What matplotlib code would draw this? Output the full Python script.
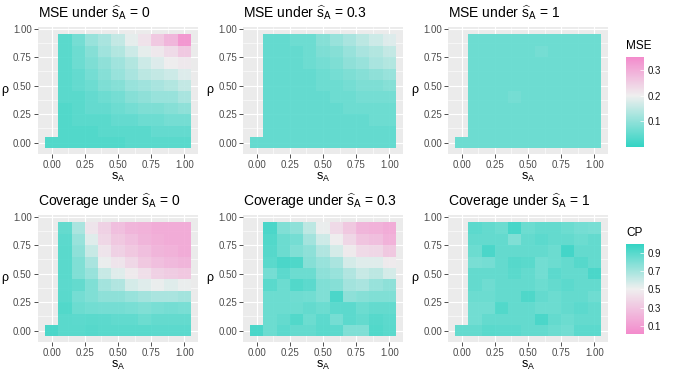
import numpy as np
import matplotlib
matplotlib.use("Agg")
import matplotlib.pyplot as plt
from matplotlib.colors import LinearSegmentedColormap, Normalize

plt.rcParams["font.family"] = ["Liberation Sans", "DejaVu Sans"]
plt.rcParams["mathtext.fontset"] = "custom"
plt.rcParams["mathtext.rm"] = "Liberation Sans"
plt.rcParams["mathtext.it"] = "Liberation Sans:italic"
plt.rcParams["mathtext.default"] = "regular"

# ----------------------------------------------------------------------
# Data
# ----------------------------------------------------------------------
s_vals = [0.1, 0.2, 0.3, 0.4, 0.5, 0.6, 0.7, 0.8, 0.9, 1.0]
rho_vals = [0.9, 0.8, 0.7, 0.6, 0.5, 0.4, 0.3, 0.2, 0.1, 0.0]  # rows, top->bottom
s_hat = ["0", "0.3", "1"]

mse_s0 = [
    [0.03, 0.06, 0.10, 0.12, 0.15, 0.19, 0.22, 0.26, 0.29, 0.34],
    [0.03, 0.05, 0.08, 0.11, 0.13, 0.16, 0.19, 0.21, 0.23, 0.26],
    [0.03, 0.05, 0.07, 0.09, 0.11, 0.13, 0.16, 0.18, 0.20, 0.21],
    [0.03, 0.04, 0.06, 0.08, 0.10, 0.12, 0.14, 0.15, 0.16, 0.18],
    [0.03, 0.04, 0.05, 0.07, 0.08, 0.10, 0.11, 0.12, 0.13, 0.15],
    [0.03, 0.03, 0.04, 0.05, 0.06, 0.08, 0.09, 0.10, 0.10, 0.12],
    [0.02, 0.03, 0.04, 0.04, 0.05, 0.06, 0.07, 0.07, 0.08, 0.09],
    [0.02, 0.03, 0.03, 0.03, 0.04, 0.04, 0.05, 0.05, 0.06, 0.06],
    [0.02, 0.02, 0.02, 0.03, 0.03, 0.03, 0.03, 0.04, 0.04, 0.04],
    [0.02, 0.02, 0.02, 0.02, 0.02, 0.03, 0.03, 0.03, 0.03, 0.03],
]
mse_s03 = [
    [0.04, 0.04, 0.05, 0.05, 0.08, 0.10, 0.12, 0.14, 0.16, 0.18],
    [0.04, 0.04, 0.04, 0.05, 0.07, 0.08, 0.10, 0.12, 0.13, 0.15],
    [0.04, 0.04, 0.04, 0.05, 0.06, 0.07, 0.09, 0.10, 0.12, 0.13],
    [0.04, 0.04, 0.04, 0.04, 0.05, 0.06, 0.07, 0.08, 0.09, 0.10],
    [0.04, 0.04, 0.04, 0.04, 0.05, 0.05, 0.06, 0.07, 0.07, 0.08],
    [0.04, 0.04, 0.04, 0.04, 0.04, 0.05, 0.05, 0.06, 0.06, 0.06],
    [0.04, 0.04, 0.04, 0.04, 0.04, 0.04, 0.05, 0.05, 0.05, 0.05],
    [0.04, 0.04, 0.04, 0.04, 0.04, 0.04, 0.04, 0.04, 0.05, 0.05],
    [0.04, 0.04, 0.04, 0.04, 0.04, 0.04, 0.04, 0.04, 0.04, 0.04],
    [0.04, 0.04, 0.04, 0.04, 0.04, 0.04, 0.04, 0.04, 0.04, 0.04],
]
mse_s1 = [
    [0.05, 0.05, 0.05, 0.05, 0.05, 0.05, 0.05, 0.05, 0.05, 0.05],
    [0.05, 0.05, 0.05, 0.05, 0.05, 0.06, 0.05, 0.05, 0.05, 0.05],
    [0.05, 0.05, 0.05, 0.05, 0.05, 0.05, 0.05, 0.05, 0.05, 0.05],
    [0.05, 0.05, 0.05, 0.05, 0.05, 0.05, 0.05, 0.05, 0.05, 0.05],
    [0.05, 0.05, 0.05, 0.05, 0.05, 0.05, 0.05, 0.05, 0.05, 0.05],
    [0.05, 0.05, 0.05, 0.06, 0.05, 0.05, 0.05, 0.05, 0.05, 0.05],
    [0.05, 0.05, 0.05, 0.05, 0.05, 0.05, 0.05, 0.05, 0.05, 0.05],
    [0.05, 0.05, 0.05, 0.05, 0.05, 0.05, 0.05, 0.05, 0.05, 0.05],
    [0.05, 0.05, 0.05, 0.05, 0.05, 0.05, 0.05, 0.05, 0.05, 0.05],
    [0.05, 0.05, 0.05, 0.05, 0.05, 0.05, 0.05, 0.05, 0.05, 0.05],
]
mse_origin = [0.02, 0.04, 0.05]

cp_s0 = [
    [0.90, 0.70, 0.45, 0.35, 0.25, 0.20, 0.18, 0.15, 0.15, 0.15],
    [0.92, 0.75, 0.55, 0.38, 0.30, 0.25, 0.20, 0.17, 0.15, 0.15],
    [0.93, 0.78, 0.62, 0.45, 0.35, 0.30, 0.25, 0.20, 0.18, 0.15],
    [0.93, 0.82, 0.70, 0.52, 0.45, 0.38, 0.30, 0.25, 0.22, 0.20],
    [0.93, 0.82, 0.75, 0.62, 0.55, 0.48, 0.42, 0.35, 0.32, 0.30],
    [0.92, 0.90, 0.82, 0.72, 0.68, 0.58, 0.55, 0.52, 0.55, 0.52],
    [0.93, 0.85, 0.82, 0.78, 0.78, 0.75, 0.72, 0.70, 0.70, 0.72],
    [0.95, 0.88, 0.86, 0.85, 0.85, 0.84, 0.82, 0.84, 0.85, 0.84],
    [0.93, 0.92, 0.93, 0.92, 0.91, 0.91, 0.88, 0.90, 0.90, 0.90],
    [0.93, 0.93, 0.94, 0.93, 0.93, 0.93, 0.93, 0.92, 0.92, 0.92],
]
cp_s03 = [
    [0.97, 0.82, 0.78, 0.65, 0.52, 0.40, 0.30, 0.20, 0.18, 0.15],
    [0.95, 0.88, 0.85, 0.72, 0.60, 0.50, 0.38, 0.28, 0.25, 0.18],
    [0.94, 0.88, 0.82, 0.78, 0.68, 0.58, 0.48, 0.40, 0.38, 0.30],
    [0.93, 0.97, 0.96, 0.80, 0.75, 0.70, 0.58, 0.55, 0.55, 0.48],
    [0.85, 0.92, 0.88, 0.88, 0.78, 0.75, 0.68, 0.62, 0.65, 0.58],
    [0.93, 0.88, 0.95, 0.92, 0.82, 0.80, 0.72, 0.70, 0.75, 0.78],
    [0.88, 0.88, 0.87, 0.86, 0.82, 0.97, 0.78, 0.80, 0.82, 0.82],
    [0.88, 0.88, 0.88, 0.90, 0.88, 0.92, 0.92, 0.88, 0.90, 0.90],
    [0.88, 0.90, 0.95, 0.88, 0.92, 0.85, 0.92, 0.90, 0.94, 0.92],
    [0.88, 0.92, 0.90, 0.90, 0.93, 0.92, 0.82, 0.82, 0.95, 0.93],
]
cp_s1 = [
    [0.92, 0.90, 0.88, 0.98, 0.88, 0.90, 0.90, 0.88, 0.85, 0.84],
    [0.90, 0.90, 0.90, 0.82, 0.90, 0.92, 0.90, 0.90, 0.88, 0.90],
    [0.88, 0.97, 0.90, 0.90, 0.90, 0.90, 0.88, 0.99, 0.90, 0.90],
    [0.84, 0.85, 0.90, 0.94, 0.93, 0.86, 0.88, 0.90, 0.94, 0.90],
    [0.90, 0.90, 0.90, 0.93, 0.90, 0.86, 0.92, 0.90, 0.90, 0.97],
    [0.90, 0.87, 0.90, 0.90, 0.90, 0.88, 0.90, 0.92, 0.90, 0.90],
    [0.88, 0.88, 0.90, 0.90, 0.96, 0.90, 0.88, 0.90, 0.90, 0.87],
    [0.86, 0.86, 0.95, 0.90, 0.90, 0.88, 0.88, 0.90, 0.92, 0.90],
    [0.86, 0.90, 0.90, 0.90, 0.90, 0.97, 0.90, 0.88, 0.90, 0.90],
    [0.90, 0.93, 0.92, 0.92, 0.90, 0.90, 0.88, 0.86, 0.92, 0.92],
]
cp_origin = [0.97, 0.97, 0.90]

mse_ticks = [0.1, 0.2, 0.3]
cp_ticks = [0.1, 0.3, 0.5, 0.7, 0.9]

# ----------------------------------------------------------------------
# Styling
# ----------------------------------------------------------------------
TEAL = "#33D4C4"
MID = "#EFEFEF"
PINK = "#F38BCC"
mse_cmap = LinearSegmentedColormap.from_list(
    "mse", [(0.0, TEAL), (0.57, MID), (1.0, PINK)])
cp_cmap = LinearSegmentedColormap.from_list(
    "cp", [(0.0, PINK), (0.5, MID), (1.0, TEAL)])
mse_norm = Normalize(vmin=0.0, vmax=0.35)
cp_norm = Normalize(vmin=0.01, vmax=1.0)

W, H = 675, 375
PANEL_LEFT = [37.7, 242.8, 447.8]
PANEL_W = 160.5
ROW_TOP = [27, 215]
PANEL_H = 127


def full_grid(rows, origin):
    """Add the s_A = 0 column (only rho = 0 exists there)."""
    z = np.full((len(rho_vals), len(s_vals) + 1), np.nan)
    z[:, 1:] = np.array(rows)
    z[-1, 0] = origin
    return z[::-1]  # rho ascending


def draw_panel(ax, z, cmap, norm):
    xs = np.array([0.0] + s_vals)
    ys = np.array(rho_vals[::-1])
    xe = np.concatenate([xs - 0.05, [xs[-1] + 0.05]])
    ye = np.concatenate([ys - 0.05, [ys[-1] + 0.05]])
    ax.set_facecolor("#EBEBEB")
    ax.pcolormesh(xe, ye, np.ma.masked_invalid(z), cmap=cmap, norm=norm,
                  alpha=0.92, edgecolors="none", zorder=2)
    ax.set_xlim(-0.105, 1.105)
    ax.set_ylim(-0.1, 1.015)
    ticks = [0.0, 0.25, 0.5, 0.75, 1.0]
    ax.set_xticks(ticks)
    ax.set_yticks(ticks)
    ax.set_xticklabels(["0.00", "0.25", "0.50", "0.75", "1.00"])
    ax.set_yticklabels(["0.00", "0.25", "0.50", "0.75", "1.00"])
    ax.set_xticks([0.125, 0.375, 0.625, 0.875], minor=True)
    ax.set_yticks([0.125, 0.375, 0.625, 0.875], minor=True)
    ax.grid(True, which="major", color="white", lw=0.8, zorder=1)
    ax.grid(True, which="minor", color="white", lw=0.4, zorder=1)
    ax.set_axisbelow(True)
    for sp in ax.spines.values():
        sp.set_visible(False)
    ax.tick_params(which="major", length=2.7, width=0.6, color="#333333",
                   labelsize=7, labelcolor="#4D4D4D", pad=1.5)
    ax.tick_params(which="minor", length=0)
    ax.set_xlabel(r"s$_\mathrm{A}$", fontsize=9, labelpad=1)
    ax.set_ylabel(r"$\rho$", fontsize=9, rotation=0, labelpad=6, va="center")


fig = plt.figure(figsize=(W / 100, H / 100), dpi=100)

mse_data = [mse_s0, mse_s03, mse_s1]
cp_data = [cp_s0, cp_s03, cp_s1]

for r, (data, origins, cmap, norm, name) in enumerate([
        (mse_data, mse_origin, mse_cmap, mse_norm, "MSE"),
        (cp_data, cp_origin, cp_cmap, cp_norm, "Coverage")]):
    for c in range(3):
        rect = [PANEL_LEFT[c] / W, 1 - (ROW_TOP[r] + PANEL_H) / H,
                PANEL_W / W, PANEL_H / H]
        ax = fig.add_axes(rect)
        draw_panel(ax, full_grid(data[c], origins[c]), cmap, norm)
        fig.text(PANEL_LEFT[c] / W, 1 - (ROW_TOP[r] - 9) / H,
                 name + r" under $\widehat{s}_\mathrm{A}$ = " + s_hat[c],
                 fontsize=10, ha="left", va="baseline")

# colour bars
for top, cmap, norm, ticks, label in [
        (57, mse_cmap, mse_norm, mse_ticks, "MSE"),
        (244, cp_cmap, cp_norm, cp_ticks, "CP")]:
    cax = fig.add_axes([626 / W, 1 - (top + 90) / H, 17.5 / W, 90 / H])
    sm = plt.cm.ScalarMappable(norm=norm, cmap=cmap)
    cb = fig.colorbar(sm, cax=cax, ticks=ticks)
    cb.outline.set_visible(False)
    cb.ax.tick_params(length=3, width=0.5, color="white", direction="in",
                      labelsize=7, labelcolor="#1A1A1A", pad=3)
    cb.ax.set_yticklabels([f"{t:g}" for t in ticks])
    fig.text(626 / W, 1 - (top - 8) / H, label, fontsize=8.5,
             ha="left", va="baseline")

fig.savefig("out.png", dpi=100)
